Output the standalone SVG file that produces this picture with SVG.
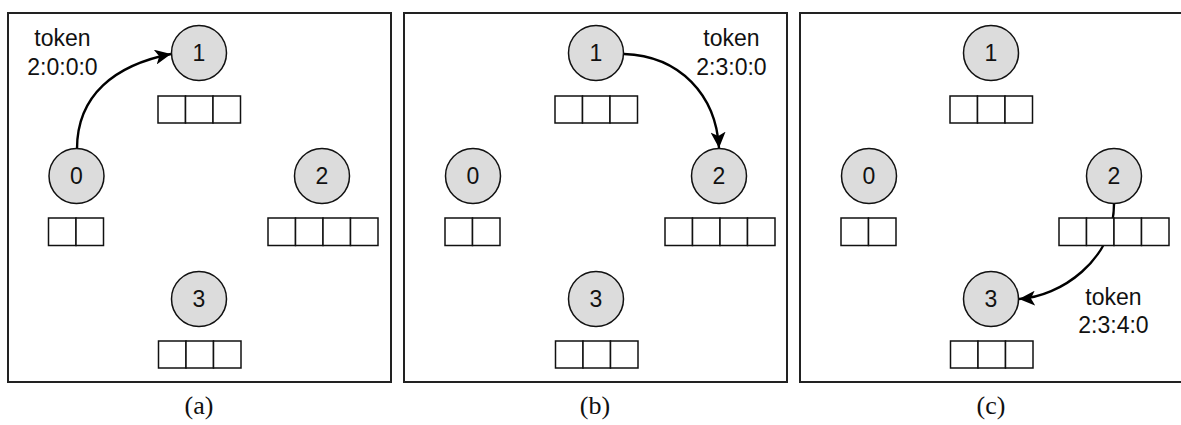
<svg xmlns="http://www.w3.org/2000/svg" width="1181" height="425" viewBox="0 0 1181 425">
  <style>
    .frame { fill: #ffffff; stroke: #222222; stroke-width: 2; }
    .proc circle { fill: #dcdcdc; stroke: #111111; stroke-width: 1.5; }
    .proc .num { font-family: "Liberation Sans", Arial, sans-serif; font-size: 23px; text-anchor: middle; fill: #111111; }
    .cell { fill: #ffffff; stroke: #111111; stroke-width: 1.5; }
    .label { font-family: "Liberation Sans", Arial, sans-serif; font-size: 23px; text-anchor: middle; fill: #111111; }
    .caption { font-family: "Liberation Serif", "Times New Roman", serif; font-size: 26px; text-anchor: middle; fill: #111111; }
    .link { fill: none; stroke: #000000; stroke-width: 2.4; }
  </style>
  <defs>
    <marker id="arrow" markerUnits="userSpaceOnUse" markerWidth="17" markerHeight="15" refX="16" refY="7.5" orient="auto">
      <path d="M0,0 L16,7.5 L0,15 L4,7.5 z" fill="#000000"/>
    </marker>
  </defs>

  <rect width="1181" height="425" fill="#ffffff"/>

  <!-- panel frames -->
  <rect class="frame" x="8" y="13" width="383" height="369"/>
  <rect class="frame" x="404" y="13" width="383" height="369"/>
  <rect class="frame" x="800" y="13" width="390" height="369"/>

  <!-- connectors (drawn under the nodes so the slot rows cover them) -->
  <g id="connectors">
    <path class="link" d="M77,149 C77,95 115,65 171,54" marker-end="url(#arrow)"/>
    <path class="link" d="M624,54 C680,56 716,95 719,148" marker-end="url(#arrow)"/>
    <path class="link" d="M1114,204 C1114,260 1060,297 1019,299" marker-end="url(#arrow)"/>
  </g>

  <!-- panel (a) -->
  <g id="panel-a">
    <g id="a-node1" class="proc">
      <circle cx="199" cy="53" r="27.5"/>
      <text class="num" x="199" y="61">1</text>
      <rect class="cell" x="158" y="96" width="27.5" height="27"/>
      <rect class="cell" x="185.5" y="96" width="27.5" height="27"/>
      <rect class="cell" x="213" y="96" width="27.5" height="27"/>
    </g>
    <g id="a-node0" class="proc">
      <circle cx="76.5" cy="176" r="27.5"/>
      <text class="num" x="76.5" y="184">0</text>
      <rect class="cell" x="48.5" y="218" width="27.5" height="27.5"/>
      <rect class="cell" x="76" y="218" width="27.5" height="27.5"/>
    </g>
    <g id="a-node2" class="proc">
      <circle cx="322" cy="176" r="27.5"/>
      <text class="num" x="322" y="184">2</text>
      <rect class="cell" x="268" y="218" width="27.5" height="27.5"/>
      <rect class="cell" x="295.5" y="218" width="27.5" height="27.5"/>
      <rect class="cell" x="323" y="218" width="27.5" height="27.5"/>
      <rect class="cell" x="350.5" y="218" width="27.5" height="27.5"/>
    </g>
    <g id="a-node3" class="proc">
      <circle cx="199" cy="299" r="27.5"/>
      <text class="num" x="199" y="307">3</text>
      <rect class="cell" x="158.5" y="341" width="27.5" height="27"/>
      <rect class="cell" x="186" y="341" width="27.5" height="27"/>
      <rect class="cell" x="213.5" y="341" width="27.5" height="27"/>
    </g>
    <text class="label" x="62.5" y="46">token</text>
    <text class="label" x="62.5" y="75">2:0:0:0</text>
    <text class="caption" x="199" y="414">(a)</text>
  </g>

  <!-- panel (b) -->
  <g id="panel-b">
    <g id="b-node1" class="proc">
      <circle cx="596" cy="53" r="27.5"/>
      <text class="num" x="596" y="61">1</text>
      <rect class="cell" x="555" y="96" width="27.5" height="27"/>
      <rect class="cell" x="582.5" y="96" width="27.5" height="27"/>
      <rect class="cell" x="610" y="96" width="27.5" height="27"/>
    </g>
    <g id="b-node0" class="proc">
      <circle cx="473" cy="176" r="27.5"/>
      <text class="num" x="473" y="184">0</text>
      <rect class="cell" x="445" y="218" width="27.5" height="27.5"/>
      <rect class="cell" x="472.5" y="218" width="27.5" height="27.5"/>
    </g>
    <g id="b-node2" class="proc">
      <circle cx="719" cy="176" r="27.5"/>
      <text class="num" x="719" y="184">2</text>
      <rect class="cell" x="665" y="218" width="27.5" height="27.5"/>
      <rect class="cell" x="692.5" y="218" width="27.5" height="27.5"/>
      <rect class="cell" x="720" y="218" width="27.5" height="27.5"/>
      <rect class="cell" x="747.5" y="218" width="27.5" height="27.5"/>
    </g>
    <g id="b-node3" class="proc">
      <circle cx="596" cy="299" r="27.5"/>
      <text class="num" x="596" y="307">3</text>
      <rect class="cell" x="555.5" y="341" width="27.5" height="27"/>
      <rect class="cell" x="583" y="341" width="27.5" height="27"/>
      <rect class="cell" x="610.5" y="341" width="27.5" height="27"/>
    </g>
    <text class="label" x="731.5" y="46">token</text>
    <text class="label" x="731.5" y="75">2:3:0:0</text>
    <text class="caption" x="595" y="414">(b)</text>
  </g>

  <!-- panel (c) -->
  <g id="panel-c">
    <g id="c-node1" class="proc">
      <circle cx="991" cy="53" r="27.5"/>
      <text class="num" x="991" y="61">1</text>
      <rect class="cell" x="950" y="96" width="27.5" height="27"/>
      <rect class="cell" x="977.5" y="96" width="27.5" height="27"/>
      <rect class="cell" x="1005" y="96" width="27.5" height="27"/>
    </g>
    <g id="c-node0" class="proc">
      <circle cx="869" cy="176" r="27.5"/>
      <text class="num" x="869" y="184">0</text>
      <rect class="cell" x="841" y="218" width="27.5" height="27.5"/>
      <rect class="cell" x="868.5" y="218" width="27.5" height="27.5"/>
    </g>
    <g id="c-node2" class="proc">
      <circle cx="1114" cy="176" r="27.5"/>
      <text class="num" x="1114" y="184">2</text>
      <rect class="cell" x="1059" y="218" width="27.5" height="27.5"/>
      <rect class="cell" x="1086.5" y="218" width="27.5" height="27.5"/>
      <rect class="cell" x="1114" y="218" width="27.5" height="27.5"/>
      <rect class="cell" x="1141.5" y="218" width="27.5" height="27.5"/>
    </g>
    <g id="c-node3" class="proc">
      <circle cx="991" cy="299" r="27.5"/>
      <text class="num" x="991" y="307">3</text>
      <rect class="cell" x="950.5" y="341" width="27.5" height="27"/>
      <rect class="cell" x="978" y="341" width="27.5" height="27"/>
      <rect class="cell" x="1005.5" y="341" width="27.5" height="27"/>
    </g>
    <text class="label" x="1113.5" y="305">token</text>
    <text class="label" x="1113.5" y="333">2:3:4:0</text>
    <text class="caption" x="991" y="414">(c)</text>
  </g>
</svg>
